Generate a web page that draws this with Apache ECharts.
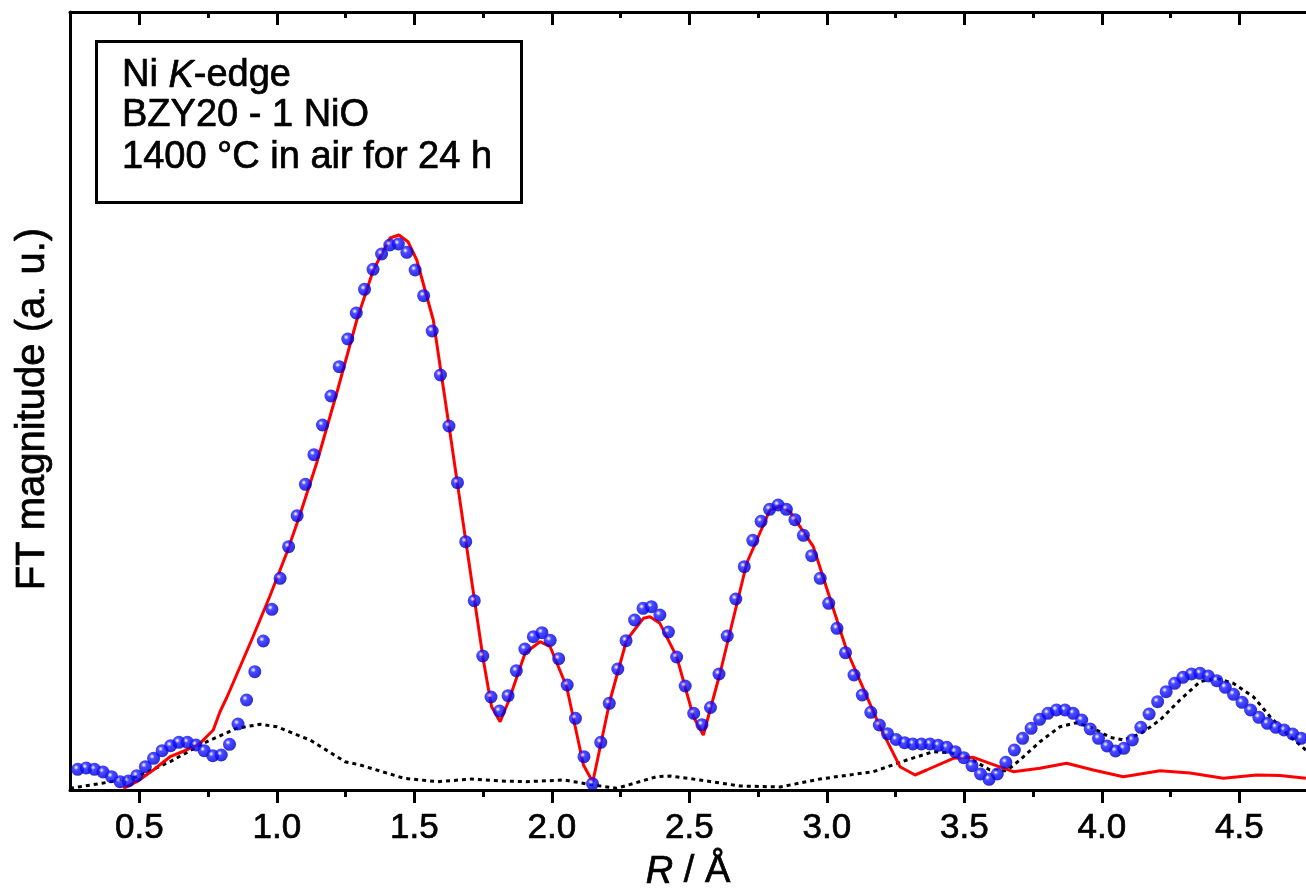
<!DOCTYPE html>
<html>
<head>
<meta charset="utf-8">
<script src="https://cdn.jsdelivr.net/npm/echarts@6/dist/echarts.min.js"></script>
<style>
html,body{margin:0;padding:0;background:#fff;}
#chart{width:1306px;height:888px;}
</style>
</head>
<body>
<div id="chart"></div>
<script>
// Experimental data (blue spheres): R (Å) and FT magnitude (a.u.)
const dataR = [0.276,0.307,0.337,0.368,0.399,0.430,0.460,0.491,0.522,0.552,0.583,0.614,0.644,0.675,0.706,0.736,0.767,0.798,0.828,0.859,
0.890,0.920,0.951,0.982,1.012,1.043,1.074,1.104,1.135,1.166,1.197,1.227,1.258,1.289,1.319,1.350,1.381,1.411,1.442,1.473,
1.503,1.534,1.565,1.595,1.626,1.657,1.687,1.718,1.749,1.779,1.810,1.841,1.871,1.902,1.933,1.964,1.994,2.025,2.056,2.086,
2.117,2.148,2.178,2.209,2.240,2.270,2.301,2.332,2.362,2.393,2.424,2.454,2.485,2.516,2.546,2.577,2.608,2.638,2.669,2.700,
2.731,2.761,2.792,2.823,2.853,2.884,2.915,2.945,2.976,3.007,3.037,3.068,3.099,3.129,3.160,3.191,3.221,3.252,3.283,3.313,
3.344,3.375,3.405,3.436,3.467,3.498,3.528,3.559,3.590,3.620,3.651,3.682,3.712,3.743,3.774,3.804,3.835,3.866,3.896,3.927,
3.958,3.988,4.019,4.050,4.080,4.111,4.142,4.172,4.203,4.234,4.265,4.295,4.326,4.357,4.387,4.418,4.449,4.479,4.510,4.541,
4.571,4.602,4.633,4.663,4.694,4.725];
const dataMag = [0.207,0.220,0.207,0.180,0.133,0.083,0.090,0.143,0.233,0.317,0.393,0.443,0.477,0.477,0.450,0.393,0.343,0.350,0.457,0.660,
0.900,1.183,1.490,1.807,2.117,2.433,2.743,3.057,3.353,3.650,3.940,4.233,4.510,4.770,5.007,5.207,5.360,5.450,5.460,5.377,
5.200,4.943,4.590,4.150,3.640,3.073,2.483,1.893,1.340,0.930,0.790,0.943,1.193,1.410,1.533,1.573,1.497,1.313,1.050,0.717,
0.333,0.063,0.477,0.867,1.210,1.493,1.700,1.817,1.833,1.750,1.580,1.330,1.040,0.767,0.653,0.825,1.160,1.540,1.910,2.233,
2.497,2.687,2.807,2.850,2.807,2.703,2.547,2.343,2.117,1.867,1.617,1.373,1.150,0.950,0.777,0.650,0.562,0.505,0.473,0.460,
0.460,0.460,0.447,0.427,0.383,0.323,0.243,0.160,0.107,0.160,0.277,0.400,0.517,0.617,0.707,0.767,0.800,0.800,0.767,0.700,
0.610,0.517,0.440,0.390,0.417,0.500,0.627,0.760,0.883,0.983,1.067,1.127,1.160,1.167,1.140,1.093,1.027,0.957,0.877,0.800,
0.727,0.667,0.627,0.600,0.560,0.517];

// Fit (red solid line)
const fitR = [0.442,0.491,0.551,0.612,0.672,0.721,0.769,0.793,0.819,0.841,0.913,0.975,1.036,1.084,1.145,1.218,1.291,1.351,1.412,1.444,
1.477,1.509,1.569,1.630,1.691,1.751,1.781,1.812,1.842,1.903,1.957,1.994,2.054,2.115,2.149,2.212,2.272,2.333,2.357,2.393,
2.454,2.515,2.551,2.612,2.709,2.793,2.830,2.866,2.951,3.072,3.193,3.266,3.321,3.363,3.460,3.533,3.593,3.678,3.775,3.872,
3.969,4.078,4.212,4.321,4.442,4.563,4.648,4.742];
const fitMag = [0.017,0.083,0.200,0.333,0.400,0.467,0.600,0.780,0.930,1.070,1.530,1.940,2.370,2.750,3.270,3.970,4.700,5.200,5.520,5.550,
5.483,5.300,4.700,3.570,2.420,1.300,0.833,0.683,0.883,1.370,1.483,1.433,1.033,0.250,0.080,0.900,1.500,1.717,1.733,1.667,
1.333,0.733,0.550,1.170,2.270,2.800,2.840,2.783,2.433,1.400,0.633,0.233,0.150,0.200,0.317,0.327,0.267,0.183,0.217,0.267,
0.200,0.133,0.193,0.170,0.117,0.150,0.145,0.117];

// Black dotted curve
const pathR = [0.248,0.364,0.491,0.612,0.733,0.854,0.939,1.000,1.121,1.248,1.303,1.463,1.585,1.708,1.812,1.906,2.044,2.151,2.236,2.381,
2.430,2.539,2.684,2.830,2.975,3.169,3.291,3.387,3.448,3.509,3.593,3.654,3.702,3.775,3.848,3.909,3.969,4.030,4.078,4.139,
4.212,4.284,4.357,4.418,4.478,4.551,4.612,4.672,4.742];
const pathMag = [0.017,0.067,0.133,0.283,0.467,0.617,0.657,0.633,0.500,0.283,0.250,0.117,0.083,0.110,0.090,0.083,0.100,0.050,0.017,0.133,
0.140,0.100,0.040,0.030,0.110,0.183,0.300,0.383,0.373,0.333,0.200,0.193,0.300,0.483,0.633,0.673,0.617,0.527,0.500,0.560,
0.700,0.900,1.083,1.117,1.067,0.933,0.733,0.567,0.400];

const majorTicks = [0.5,1.0,1.5,2.0,2.5,3.0,3.5,4.0,4.5];
const minorTicks = [0.75,1.25,1.75,2.25,2.75,3.25,3.75,4.25];
const boxLines = ['Ni ', 'K', '-edge', 'BZY20 - 1 NiO', '1400 \u00B0C in air for 24 h'];

const FONT = "'Liberation Sans', Arial, sans-serif";
const X_MIN = 0.248, X_MAX = 4.7425;
const TB = {textBorderColor: '#000', textBorderWidth: 0.7};

function zip(a, b) { return a.map((v, i) => [v, b[i]]); }

const chart = echarts.init(document.getElementById('chart'), null, {renderer: 'canvas'});

const baseX = {
  type: 'value', min: X_MIN, max: X_MAX, gridIndex: 0,
  splitLine: {show: false}
};

const option = {
  animation: false,
  backgroundColor: '#fff',
  grid: {left: 70, right: 0, top: 12, bottom: 98, containLabel: false, outerBoundsMode: 'none'},
  xAxis: [
    Object.assign({}, baseX, {
      position: 'bottom',
      axisLine: {show: true, onZero: false, lineStyle: {color: '#000', width: 3}},
      axisTick: {show: true, inside: false, length: 13, customValues: majorTicks, lineStyle: {color: '#000', width: 3}},
      axisLabel: Object.assign({show: true, customValues: majorTicks, margin: 21, color: '#000', fontSize: 35, fontFamily: FONT,
        formatter: v => Number(v).toFixed(1)}, TB),
      name: '{it|R} / \u00C5',
      nameLocation: 'middle', nameGap: 63,
      nameTextStyle: Object.assign({color: '#000', fontSize: 38, fontFamily: FONT,
        rich: {it: Object.assign({fontStyle: 'italic', fontSize: 38, fontFamily: FONT, color: '#000'}, TB)}}, TB)
    }),
    Object.assign({}, baseX, {
      position: 'bottom',
      axisLine: {show: false, onZero: false},
      axisTick: {show: true, inside: false, length: 7, customValues: minorTicks, lineStyle: {color: '#000', width: 3}},
      axisLabel: {show: false}
    }),
    Object.assign({}, baseX, {
      position: 'top',
      axisLine: {show: true, onZero: false, lineStyle: {color: '#000', width: 3}},
      axisTick: {show: true, inside: true, length: 13, customValues: majorTicks, lineStyle: {color: '#000', width: 3}},
      axisLabel: {show: false}
    }),
    Object.assign({}, baseX, {
      position: 'top',
      axisLine: {show: false, onZero: false},
      axisTick: {show: true, inside: true, length: 6, customValues: minorTicks, lineStyle: {color: '#000', width: 3}},
      axisLabel: {show: false}
    })
  ],
  yAxis: {
    type: 'value', min: 0, max: 7.78,
    axisLine: {show: true, onZero: false, lineStyle: {color: '#000', width: 3}},
    axisTick: {show: false},
    axisLabel: {show: false},
    splitLine: {show: false},
    name: 'FT magnitude (a. u.)',
    nameLocation: 'middle', nameGap: 17,
    nameTextStyle: Object.assign({color: '#000', fontSize: 40, fontFamily: FONT, padding: [0, 16, 0, 0]}, TB)
  },
  graphic: [
    {type: 'rect', shape: {x: 96.5, y: 41.5, width: 425, height: 161},
      style: {fill: '#fff', stroke: '#000', lineWidth: 3}, z: 10},
    {type: 'text', x: 122, y: 76, z: 11,
      style: {text: '{n|' + boxLines[0] + '}{i|' + boxLines[1] + '}{n|' + boxLines[2] + '}', verticalAlign: 'middle',
        rich: {n: {fontSize: 38, fontFamily: FONT, fill: '#000', stroke: '#000', lineWidth: 0.7},
               i: {fontSize: 38, fontFamily: FONT, fontStyle: 'italic', fill: '#000', stroke: '#000', lineWidth: 0.7}}}},
    {type: 'text', x: 122, y: 116, z: 11,
      style: {text: boxLines[3], verticalAlign: 'middle', fontSize: 38, fontFamily: FONT, fill: '#000', stroke: '#000', lineWidth: 0.7}},
    {type: 'text', x: 122, y: 158, z: 11,
      style: {text: boxLines[4], verticalAlign: 'middle', fontSize: 38, fontFamily: FONT, fill: '#000', stroke: '#000', lineWidth: 0.7}}
  ],
  series: [
    {
      type: 'line', xAxisIndex: 0, data: zip(pathR, pathMag), showSymbol: false, symbol: 'none',
      lineStyle: {color: '#000', width: 3, type: [4, 4]}, z: 2, silent: true
    },
    {
      type: 'line', xAxisIndex: 0, data: zip(fitR, fitMag), showSymbol: false, symbol: 'none',
      lineStyle: {color: '#ff0000', width: 3}, z: 3, silent: true
    },
    {
      type: 'scatter', xAxisIndex: 0, data: zip(dataR, dataMag), symbol: 'circle', symbolSize: 13, z: 4,
      itemStyle: {
        color: {type: 'radial', x: 0.38, y: 0.36, r: 0.62,
          colorStops: [{offset: 0, color: '#ffffff'}, {offset: 0.12, color: '#b4b4ff'},
                       {offset: 0.32, color: '#2020ff'}, {offset: 0.8, color: '#0000f4'}, {offset: 1, color: '#0000b4'}]}
      },
      silent: true
    }
  ]
};
chart.setOption(option);
</script>
</body>
</html>
